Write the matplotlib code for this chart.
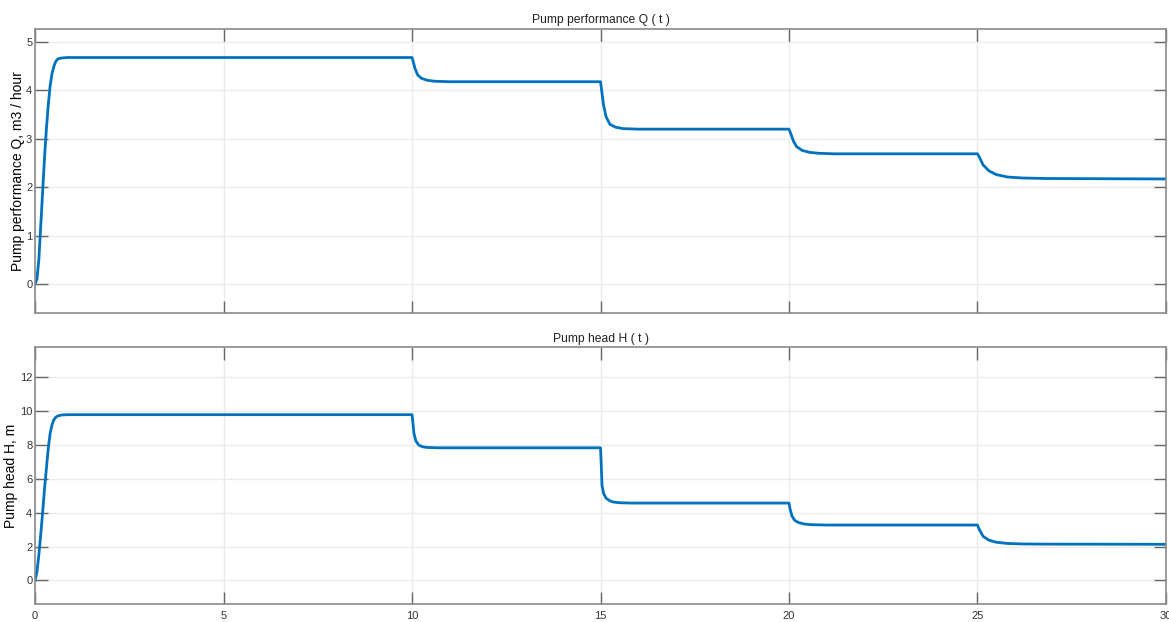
import numpy as np
import matplotlib.pyplot as plt

plt.rcParams['font.family'] = ['Liberation Sans', 'DejaVu Sans']

# values (time in s)
t_q = [0.0, 0.05, 0.1, 0.15, 0.2, 0.25, 0.3, 0.35, 0.4, 0.45, 0.5, 0.55, 0.6, 0.7, 0.85,
       10.0, 10.03, 10.08, 10.15, 10.25, 10.4, 10.6, 11.0,
       15.0, 15.03, 15.08, 15.15, 15.25, 15.4, 15.6, 16.0,
       20.0, 20.05, 20.12, 20.2, 20.35, 20.55, 20.8, 21.2,
       25.0, 25.05, 25.15, 25.3, 25.5, 25.8, 26.2, 26.8, 30.0]
q = [0.0, 0.1, 0.5, 1.2, 1.9, 2.6, 3.2, 3.7, 4.1, 4.35, 4.5, 4.6, 4.65, 4.67, 4.68,
     4.68, 4.6, 4.45, 4.32, 4.25, 4.21, 4.19, 4.18,
     4.18, 4.0, 3.7, 3.45, 3.3, 3.24, 3.21, 3.2,
     3.2, 3.1, 2.95, 2.84, 2.76, 2.72, 2.7, 2.69,
     2.69, 2.62, 2.46, 2.34, 2.26, 2.21, 2.19, 2.18, 2.17]

t_h = [0.0, 0.05, 0.1, 0.15, 0.2, 0.25, 0.3, 0.35, 0.4, 0.45, 0.5, 0.55, 0.6, 0.7, 0.85,
       10.0, 10.02, 10.05, 10.1, 10.18, 10.28, 10.4, 10.7,
       15.0, 15.02, 15.04, 15.08, 15.15, 15.25, 15.35, 15.5, 15.8,
       20.0, 20.03, 20.08, 20.15, 20.25, 20.4, 20.6, 21.0,
       25.0, 25.05, 25.15, 25.3, 25.5, 25.8, 26.2, 26.8, 30.0]
h = [0.0, 0.5, 1.5, 2.7, 4.0, 5.4, 6.6, 7.8, 8.7, 9.2, 9.5, 9.65, 9.72, 9.78, 9.8,
     9.8, 9.4, 8.7, 8.25, 8.0, 7.9, 7.86, 7.84,
     7.84, 6.8, 5.6, 5.15, 4.85, 4.7, 4.63, 4.59, 4.57,
     4.57, 4.2, 3.8, 3.55, 3.42, 3.33, 3.29, 3.27,
     3.27, 3.0, 2.6, 2.38, 2.25, 2.18, 2.15, 2.14, 2.13]

x_ticks = [0, 5, 10, 15, 20, 25, 30]
q_ticks = [0, 1, 2, 3, 4, 5]
h_ticks = [0, 2, 4, 6, 8, 10, 12]

blue = '#0072BD'

fig = plt.figure(figsize=(11.69, 6.22), dpi=100)
ax1 = fig.add_axes([0.030, 0.4968, 0.9674, 0.4566])
ax2 = fig.add_axes([0.030, 0.029, 0.9674, 0.413])


def style(ax):
    ax.grid(True, color='#ebebeb', linewidth=1)
    ax.set_axisbelow(True)
    for s in ax.spines.values():
        s.set_color('#8a8a8a')
        s.set_linewidth(1.2)
    ax.tick_params(direction='in', length=9, width=1, color='#666666',
                   labelcolor='#333333', labelsize=8, top=True, right=True, pad=2)
    ax.tick_params(axis='x', pad=5)
    ax.set_xlim(0, 30)
    ax.set_xticks(x_ticks)


ax1.plot(t_q, q, color=blue, linewidth=2)
style(ax1)
ax1.set_ylim(-0.6, 5.27)
ax1.set_yticks(q_ticks)
ax1.tick_params(labelbottom=False)
ax1.set_title('Pump performance Q ( t )', fontsize=8.7, color='#222222', pad=4)
ax1.set_ylabel('Pump performance Q, m3 / hour', fontsize=10, labelpad=1)

ax2.plot(t_h, h, color=blue, linewidth=2)
style(ax2)
ax2.set_ylim(-1.4, 13.8)
ax2.set_yticks(h_ticks)
ax2.set_title('Pump head H ( t )', fontsize=8.7, color='#222222', pad=4)
ax2.set_ylabel('Pump head H, m', fontsize=10, labelpad=1)

fig.savefig('out.png', dpi=100)
